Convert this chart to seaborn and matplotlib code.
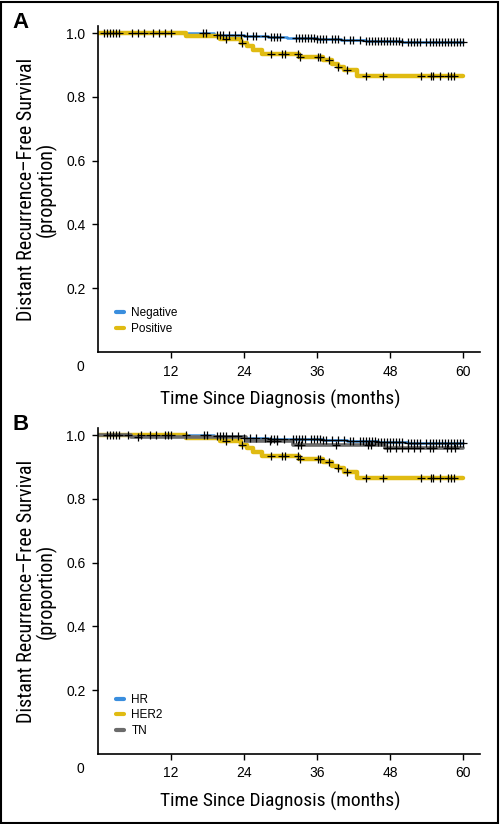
import numpy as np
import pandas as pd
import matplotlib
matplotlib.use('Agg')
import matplotlib.pyplot as plt
import seaborn as sns
from matplotlib import font_manager
from matplotlib.lines import Line2D

# step curves: time where the step starts, survival from there on
neg_t = [0, 19, 24, 28, 31, 36, 40, 44, 50]
neg_s = [1.0, 0.995, 0.991, 0.988, 0.986, 0.982, 0.978, 0.974, 0.971]
pos_t = [0, 14.5, 20, 23.5, 24.5, 25.5, 27, 33, 37, 38.5, 39.5, 40.5, 42.5]
pos_s = [1.0, 0.992, 0.981, 0.970, 0.958, 0.946, 0.935, 0.925, 0.914, 0.904, 0.895, 0.885, 0.864]

hr_t = [0, 19, 24, 28, 32, 37, 41, 46, 51]
hr_s = [1.0, 0.996, 0.992, 0.989, 0.987, 0.984, 0.980, 0.977, 0.975]
tn_t = [0, 5.5, 24.3, 32, 47.2]
tn_s = [1.0, 0.994, 0.981, 0.968, 0.958]

# censor times
neg_c = [1, 1.5, 2, 2.5, 3, 3.5, 5.6, 6.5, 7.5, 9, 10, 11, 12, 17.2, 17.8,
         19.5, 20, 20.5, 21.5, 22.5, 23.5, 24.5, 25.5, 26, 27.5, 28.5, 29, 29.5, 30,
         32.5, 33, 33.5, 34, 34.5, 35, 35.5, 36, 36.5, 37, 37.5, 38.5, 39, 39.5, 40.5,
         41.5, 42, 43, 44, 44.5, 45, 45.5, 46, 46.5, 47, 47.5, 48, 48.5, 49, 49.5, 50,
         51, 51.5, 52, 52.5, 53, 54, 54.5, 55, 55.5, 56, 56.5, 57, 57.5, 58, 58.5, 59, 59.5, 60]
pos_c = [21.1, 23.6, 28.4, 30.3, 30.8, 32.8, 33.2, 36.2, 36.5, 38, 39.5, 41,
         44.1, 46.8, 53.1, 54.7, 55.1, 56.3, 57.5, 58.1, 58.6]
hr_c = [1.5, 2, 2.5, 3, 3.5, 5, 7, 8.5, 9.5, 11, 11.5, 12, 14.5, 17.5, 18,
        19.5, 20, 20.5, 21, 22, 23, 24, 25, 26, 27.5, 28.5, 29, 29.5, 30.5,
        32, 32.5, 33, 33.5, 34, 35, 35.5, 36, 36.5, 37, 37.5, 38.5, 39.5, 40.5,
        41.5, 42, 43, 43.5, 44, 44.5, 45, 45.5, 46, 46.5, 47, 47.5, 48, 48.5, 49, 49.5,
        50, 51, 51.5, 52, 52.5, 53, 54, 54.5, 55, 55.5, 56, 56.5, 57, 57.5, 58, 58.5, 59, 59.5, 60]
tn_c = [6.5, 28.3, 29.4, 32.9, 33.4, 39.2, 44.4, 44.9, 47.5, 48, 49, 50, 51,
        52, 53, 54.5, 55, 57.3, 58, 58.7]

groups_a = ['Negative', 'Positive']
groups_b = ['HR', 'HER2', 'TN']
colors = {'Negative': '#3a8ede', 'Positive': '#e0bb12',
          'HR': '#3a8ede', 'HER2': '#e0bb12', 'TN': '#6b6b6b'}
widths = {'Negative': 1.8, 'Positive': 3.2, 'HR': 1.8, 'HER2': 3.2, 'TN': 2.6}
xticks = [12, 24, 36, 48, 60]
yticks = [0.2, 0.4, 0.6, 0.8, 1.0]

names = {f.name for f in font_manager.fontManager.ttflist}
narrow = 'DejaVu Sans'
for cand in ['Liberation Sans Narrow', 'Arial Narrow', 'Roboto Condensed',
             'Archivo Narrow', 'Barlow Semi Condensed']:
    if cand in names:
        narrow = cand
        break
plain = 'Liberation Sans' if 'Liberation Sans' in names else 'DejaVu Sans'

sns.set_style('ticks')
plt.rcParams['font.family'] = [plain, 'DejaVu Sans']
for k in ['text.color', 'axes.labelcolor', 'xtick.color', 'ytick.color']:
    plt.rcParams[k] = 'black'


def at(t, s, c):
    # survival value of the step curve at each censor time
    idx = np.searchsorted(np.array(t), np.array(c), side='right') - 1
    return np.array(s)[idx]


def panel(ax, curves, order, letter, leg_y):
    for name in order:
        t, s, c = curves[name]
        df = pd.DataFrame({'t': list(t) + [60], 's': list(s) + [s[-1]]})
        sns.lineplot(data=df, x='t', y='s', ax=ax, color=colors[name],
                     linewidth=widths[name], drawstyle='steps-post',
                     estimator=None, sort=False)
    for name in order:
        t, s, c = curves[name]
        cd = pd.DataFrame({'t': c, 's': at(t, s, c)})
        sns.scatterplot(data=cd, x='t', y='s', ax=ax, marker='+', color='black',
                        s=40, linewidth=0.9, zorder=5)
    ax.set_xlim(0, 62.8)
    ax.set_ylim(0, 1.022)
    ax.set_xticks(xticks)
    ax.set_yticks(yticks)
    ax.set_xticklabels([str(v) for v in xticks])
    ax.set_yticklabels(['%.1f' % v for v in yticks])
    ax.tick_params(labelsize=10, length=4, width=1, color='black', pad=5)
    for sp in ['left', 'bottom']:
        ax.spines[sp].set_linewidth(1.2)
        ax.spines[sp].set_color('black')
    sns.despine(ax=ax)
    ax.text(-0.045, -0.045, '0', transform=ax.transAxes, ha='center', va='center',
            fontsize=10)
    ax.set_xlabel('Time Since Diagnosis (months)', family=narrow, fontsize=14)
    ax.xaxis.set_label_coords(30 / 62.8, -0.115)
    ax.set_ylabel('Distant Recurrence\u2013Free Survival\n(proportion)', family=narrow,
                  fontsize=14.5, linespacing=1.0)
    ax.yaxis.set_label_coords(-0.108, 0.5)
    handles = [Line2D([], [], color=colors[n], linewidth=3) for n in order]
    ax.legend(handles, order, loc='lower left', bbox_to_anchor=(0.035, leg_y),
              frameon=False, fontsize=8.5, handlelength=0.7, handletextpad=0.6,
              labelspacing=0.3, borderaxespad=0)
    ax.text(-0.225, 1.01, letter, transform=ax.transAxes, fontsize=16,
            fontweight='bold', ha='left', va='center')


fig = plt.figure(figsize=(5.0, 8.24), dpi=100)
ax_a = fig.add_axes([0.196, 0.5728, 0.764, 0.3956])
ax_b = fig.add_axes([0.196, 0.0850, 0.764, 0.3956])

panel(ax_a, {'Negative': (neg_t, neg_s, neg_c), 'Positive': (pos_t, pos_s, pos_c)},
      groups_a, 'A', 0.038)
panel(ax_b, {'HR': (hr_t, hr_s, hr_c), 'HER2': (pos_t, pos_s, pos_c),
             'TN': (tn_t, tn_s, tn_c)}, groups_b, 'B', 0.038)

fig.patches.append(plt.Rectangle((0.002, 0.001), 0.993, 0.997, transform=fig.transFigure,
                                 fill=False, edgecolor='black', linewidth=1.5))
fig.savefig('out.png', dpi=100)
